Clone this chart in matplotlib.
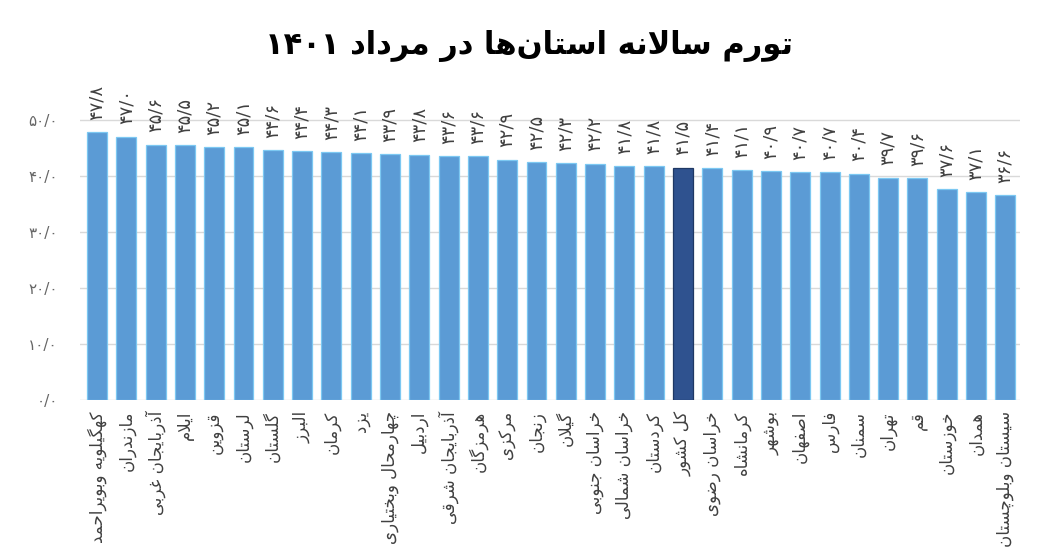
import re
import matplotlib
matplotlib.use('Agg')
import matplotlib.pyplot as plt
import numpy as np

# provinces, in the order shown (left to right)
provinces = ['کهگیلویه وبویراحمد', 'مازندران', 'آذربایجان غربی', 'ایلام', 'قزوین',
             'لرستان', 'گلستان', 'البرز', 'کرمان', 'یزد', 'چهارمحال وبختیاری',
             'اردبیل', 'آذربایجان شرقی', 'هرمزگان', 'مرکزی', 'زنجان', 'گیلان',
             'خراسان جنوبی', 'خراسان شمالی', 'کردستان', 'کل کشور', 'خراسان رضوی',
             'کرمانشاه', 'بوشهر', 'اصفهان', 'فارس', 'سمنان', 'تهران', 'قم',
             'خوزستان', 'همدان', 'سیستان وبلوچستان']
inflation = [47.8, 47.0, 45.6, 45.5, 45.2, 45.1, 44.6, 44.4, 44.3, 44.1, 43.9,
             43.8, 43.6, 43.6, 42.9, 42.5, 42.3, 42.2, 41.8, 41.8, 41.5, 41.4,
             41.1, 40.9, 40.7, 40.7, 40.4, 39.7, 39.6, 37.6, 37.1, 36.6]
highlight = 'کل کشور'
yticks = [0, 10, 20, 30, 40, 50]
title = 'تورم سالانه استان\u200cها در مرداد ۱۴۰۱'


# minimal arabic/persian shaping, matplotlib has no complex text layout
# (isolated, final, initial, medial)
FORMS = {
    'ا': ('\uFE8D', '\uFE8E', None, None),
    'آ': ('\uFE81', '\uFE82', None, None),
    'ب': ('\uFE8F', '\uFE90', '\uFE91', '\uFE92'),
    'پ': ('\uFB56', '\uFB57', '\uFB58', '\uFB59'),
    'ت': ('\uFE95', '\uFE96', '\uFE97', '\uFE98'),
    'ث': ('\uFE99', '\uFE9A', '\uFE9B', '\uFE9C'),
    'ج': ('\uFE9D', '\uFE9E', '\uFE9F', '\uFEA0'),
    'چ': ('\uFB7A', '\uFB7B', '\uFB7C', '\uFB7D'),
    'ح': ('\uFEA1', '\uFEA2', '\uFEA3', '\uFEA4'),
    'خ': ('\uFEA5', '\uFEA6', '\uFEA7', '\uFEA8'),
    'د': ('\uFEA9', '\uFEAA', None, None),
    'ذ': ('\uFEAB', '\uFEAC', None, None),
    'ر': ('\uFEAD', '\uFEAE', None, None),
    'ز': ('\uFEAF', '\uFEB0', None, None),
    'ژ': ('\uFB8A', '\uFB8B', None, None),
    'س': ('\uFEB1', '\uFEB2', '\uFEB3', '\uFEB4'),
    'ش': ('\uFEB5', '\uFEB6', '\uFEB7', '\uFEB8'),
    'ص': ('\uFEB9', '\uFEBA', '\uFEBB', '\uFEBC'),
    'ض': ('\uFEBD', '\uFEBE', '\uFEBF', '\uFEC0'),
    'ط': ('\uFEC1', '\uFEC2', '\uFEC3', '\uFEC4'),
    'ظ': ('\uFEC5', '\uFEC6', '\uFEC7', '\uFEC8'),
    'ع': ('\uFEC9', '\uFECA', '\uFECB', '\uFECC'),
    'غ': ('\uFECD', '\uFECE', '\uFECF', '\uFED0'),
    'ف': ('\uFED1', '\uFED2', '\uFED3', '\uFED4'),
    'ق': ('\uFED5', '\uFED6', '\uFED7', '\uFED8'),
    'ک': ('\uFB8E', '\uFB8F', '\uFB90', '\uFB91'),
    'گ': ('\uFB92', '\uFB93', '\uFB94', '\uFB95'),
    'ل': ('\uFEDD', '\uFEDE', '\uFEDF', '\uFEE0'),
    'م': ('\uFEE1', '\uFEE2', '\uFEE3', '\uFEE4'),
    'ن': ('\uFEE5', '\uFEE6', '\uFEE7', '\uFEE8'),
    'و': ('\uFEED', '\uFEEE', None, None),
    'ه': ('\uFEE9', '\uFEEA', '\uFEEB', '\uFEEC'),
    'ی': ('\uFBFC', '\uFBFD', '\uFBFE', '\uFBFF'),
}
LAM_ALEF = {'ا': ('\uFEFB', '\uFEFC'), 'آ': ('\uFEF5', '\uFEF6')}
DIGITS = '۰۱۲۳۴۵۶۷۸۹'


def dual(c):
    return c in FORMS and FORMS[c][2] is not None


def shape(text):
    out = []
    i = 0
    n = len(text)
    while i < n:
        c = text[i]
        if c not in FORMS:
            if c != '\u200c':
                out.append(c)
            i += 1
            continue
        prev_j = i > 0 and dual(text[i - 1])
        if c == 'ل' and i + 1 < n and text[i + 1] in LAM_ALEF:
            out.append(LAM_ALEF[text[i + 1]][1 if prev_j else 0])
            i += 2
            continue
        next_j = dual(c) and i + 1 < n and text[i + 1] in FORMS
        f = FORMS[c]
        if prev_j and next_j:
            out.append(f[3])
        elif prev_j:
            out.append(f[1])
        elif next_j:
            out.append(f[2])
        else:
            out.append(f[0])
        i += 1
    s = ''.join(out)
    # visual order: reverse, keep digit runs left to right
    runs = re.findall('[' + DIGITS + '/]+|[^' + DIGITS + '/]+', s)
    return ''.join(r if r[0] in DIGITS + '/' else r[::-1] for r in reversed(runs))


def fa_num(v):
    s = '%.1f' % v
    return ''.join(DIGITS[int(ch)] if ch.isdigit() else '/' for ch in s)


plt.rcParams['font.family'] = ['DejaVu Sans']

fig = plt.figure(figsize=(10.58, 5.52), dpi=100)
ax = fig.add_axes([80 / 1058, 152 / 552, 940 / 1058, 308 / 552])

x = np.arange(len(provinces))
colors = ['#2f528f' if p == highlight else '#5b9bd5' for p in provinces]
edges = ['#1f3864' if p == highlight else '#7cc8f2' for p in provinces]
ax.bar(x, inflation, width=0.68, color=colors, edgecolor=edges, linewidth=0.9, zorder=3)

for xi, v in zip(x, inflation):
    ax.text(xi, v + 2.2, fa_num(v), rotation=90, ha='center', va='bottom',
            fontsize=13, color='#404040', zorder=4)

ax.set_xlim(-0.58, len(provinces) - 0.5)
ax.set_ylim(0, 55)
ax.set_yticks(yticks)
ax.set_yticklabels([fa_num(v) for v in yticks], fontsize=11, color='#666666')
ax.set_xticks(x)
ax.set_xticklabels([shape(p) for p in provinces], rotation=90, ha='center', va='top',
                   fontsize=12, color='#404040')
ax.tick_params(axis='both', length=0)
ax.tick_params(axis='y', pad=16)
ax.tick_params(axis='x', pad=8)
ax.grid(axis='y', color='#d9d9d9', linewidth=1.0, zorder=0)
for s in ax.spines.values():
    s.set_visible(False)

fig.text(0.5, 1 - 46 / 552, shape(title), ha='center', va='center', fontsize=22,
         fontweight='bold', color='black')

fig.savefig('out.png', dpi=100)
